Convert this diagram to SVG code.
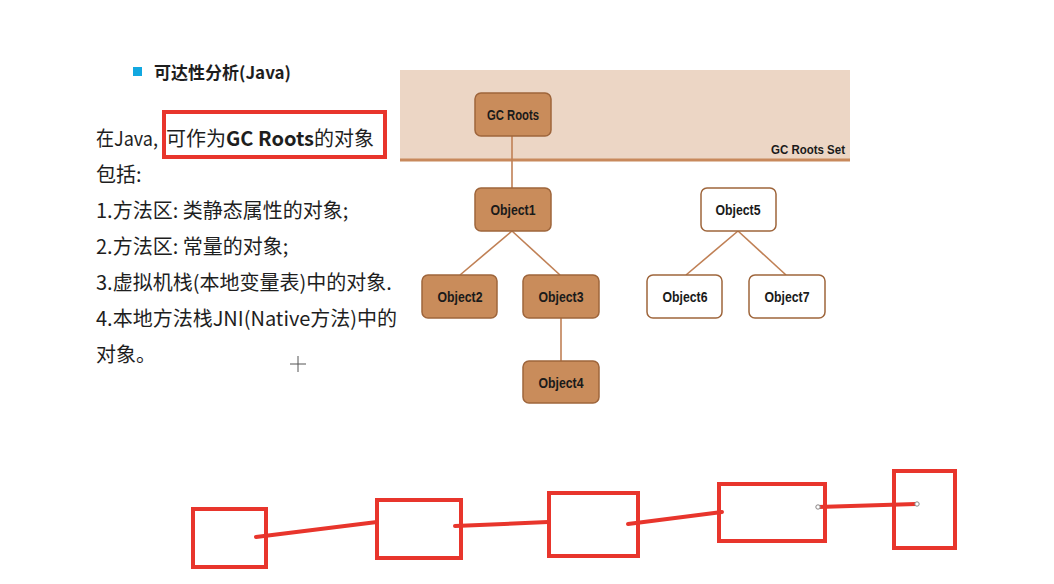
<svg xmlns="http://www.w3.org/2000/svg" width="1054" height="584" viewBox="0 0 1054 584">
<style>
.body{font-family:"Noto Sans CJK SC","Microsoft YaHei",sans-serif;font-size:20px;fill:#1e1e1e}
.node rect{stroke-width:1.5}
.on rect{fill:#c98c5b;stroke:#9e653b}
.off rect{fill:#ffffff;stroke:#9e653b}
.lbl{font-family:"Liberation Sans",Arial,sans-serif;font-weight:bold;font-size:14px;fill:#1a1a1a;text-anchor:middle}
.edge{stroke:#c08055;stroke-width:1.6;fill:none}
.red{fill:none;stroke:#e8352c;stroke-width:4}
.redline{stroke:#e8352c;stroke-width:4;stroke-linecap:round}
</style>
<rect width="1054" height="584" fill="#ffffff"/>
<g id="left-text">
<rect x="133" y="67" width="9" height="9" fill="#12a8e0"/>
<text x="154" y="79" font-family="'Noto Sans CJK SC',sans-serif" font-size="17" font-weight="bold" fill="#1e1e1e">可达性分析(Java)</text>
<text class="body" x="96" y="146" textLength="62" lengthAdjust="spacingAndGlyphs">在Java,</text>
<text class="body" x="166" y="146">可作为<tspan font-weight="bold">GC Roots</tspan>的对象</text>
<rect class="red" x="164" y="112" width="221" height="45" stroke-width="3.5"/>
<text class="body" x="96" y="182">包括:</text>
<text class="body" x="96" y="218">1.方法区: 类静态属性的对象;</text>
<text class="body" x="96" y="254">2.方法区: 常量的对象;</text>
<text class="body" x="96" y="290">3.虚拟机栈(本地变量表)中的对象.</text>
<text class="body" x="96" y="326">4.本地方法栈JNI(Native方法)中的</text>
<text class="body" x="96" y="362">对象。</text>
<g stroke="#555" stroke-width="1">
<line x1="290" y1="364" x2="306" y2="364"/>
<line x1="298" y1="356" x2="298" y2="372"/>
</g>
</g>
<g id="roots-set">
<rect x="400" y="70" width="450" height="90" fill="#ecd6c5"/>
<line x1="400" y1="160" x2="850" y2="160" stroke="#c8895c" stroke-width="3"/>
<text x="845" y="154" font-family="'Liberation Sans',Arial,sans-serif" font-weight="bold" font-size="13" fill="#1a1a1a" text-anchor="end" textLength="74" lengthAdjust="spacingAndGlyphs">GC Roots Set</text>
</g>
<g id="connectors">
<line class="edge" x1="512" y1="136" x2="512" y2="188"/>
<line class="edge" x1="512" y1="231" x2="460" y2="275"/>
<line class="edge" x1="512" y1="231" x2="560" y2="275"/>
<line class="edge" x1="561" y1="318" x2="561" y2="361"/>
<line class="edge" x1="738" y1="231" x2="686" y2="275"/>
<line class="edge" x1="738" y1="231" x2="786" y2="275"/>
</g>
<g id="gc-roots" class="node on"><rect x="475" y="93" width="76" height="43" rx="6"/><text class="lbl" x="513" y="120" textLength="52" lengthAdjust="spacingAndGlyphs">GC Roots</text></g>
<g id="object1" class="node on"><rect x="475" y="188" width="76" height="43" rx="6"/><text class="lbl" x="513" y="215" textLength="45" lengthAdjust="spacingAndGlyphs">Object1</text></g>
<g id="object2" class="node on"><rect x="422" y="275" width="75" height="43" rx="6"/><text class="lbl" x="460" y="302" textLength="45" lengthAdjust="spacingAndGlyphs">Object2</text></g>
<g id="object3" class="node on"><rect x="523" y="275" width="76" height="43" rx="6"/><text class="lbl" x="561" y="302" textLength="45" lengthAdjust="spacingAndGlyphs">Object3</text></g>
<g id="object4" class="node on"><rect x="523" y="361" width="76" height="42" rx="6"/><text class="lbl" x="561" y="388" textLength="45" lengthAdjust="spacingAndGlyphs">Object4</text></g>
<g id="object5" class="node off"><rect x="701" y="188" width="75" height="43" rx="6"/><text class="lbl" x="738" y="215" textLength="45" lengthAdjust="spacingAndGlyphs">Object5</text></g>
<g id="object6" class="node off"><rect x="647" y="275" width="75" height="43" rx="6"/><text class="lbl" x="685" y="302" textLength="45" lengthAdjust="spacingAndGlyphs">Object6</text></g>
<g id="object7" class="node off"><rect x="749" y="275" width="76" height="43" rx="6"/><text class="lbl" x="787" y="302" textLength="45" lengthAdjust="spacingAndGlyphs">Object7</text></g>
<g id="chain-boxes">
<rect class="red" x="193" y="509" width="73" height="58"/>
<rect class="red" x="377" y="500" width="84" height="58"/>
<rect class="red" x="549" y="493" width="89" height="63"/>
<rect class="red" x="719" y="484" width="106" height="57"/>
<rect class="red" x="894" y="471" width="61" height="77"/>
</g>
<g id="chain-lines">
<line class="redline" x1="256" y1="537" x2="377" y2="522"/>
<line class="redline" x1="455" y1="526" x2="548" y2="522"/>
<line class="redline" x1="628" y1="524" x2="722" y2="512"/>
<line class="redline" x1="818" y1="507" x2="916" y2="504"/>
<circle cx="818" cy="507" r="2.2" fill="#fff" stroke="#888" stroke-width="1"/>
<circle cx="917" cy="504" r="2.2" fill="#fff" stroke="#888" stroke-width="1"/>
</g>
</svg>
